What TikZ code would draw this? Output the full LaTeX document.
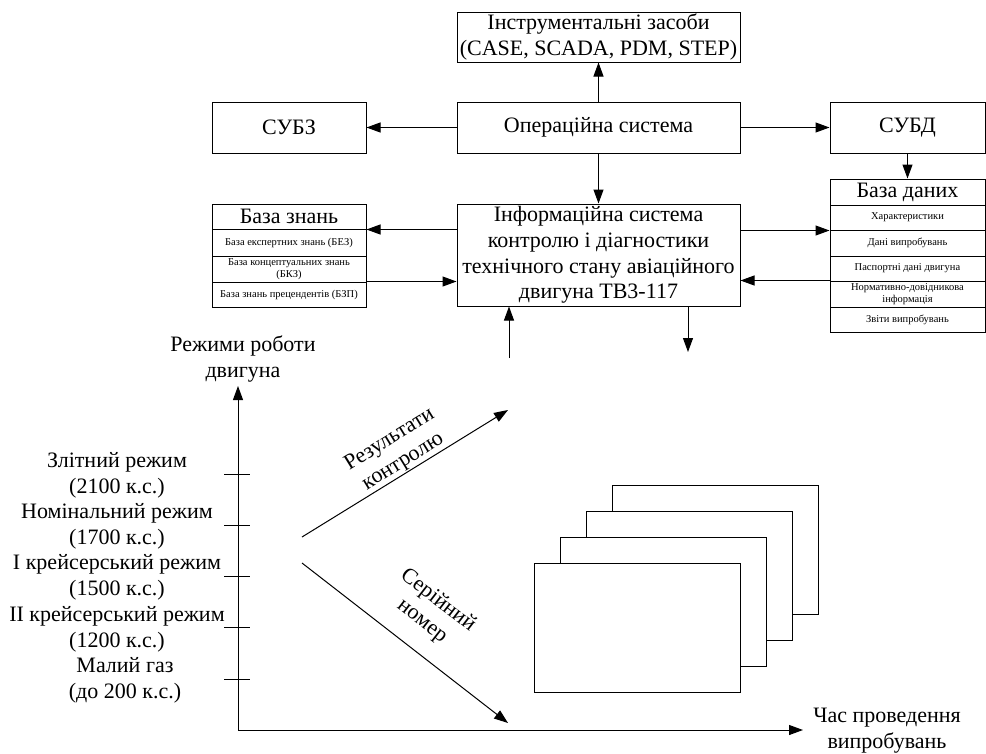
\documentclass[tikz,border=0pt]{standalone}
\usepackage{fontspec}
\setmainfont{Liberation Serif}
\usetikzlibrary{arrows.meta}
\begin{document}
\begin{tikzpicture}[x=1pt,y=-1pt,
 box/.style={draw, line width=1pt, inner sep=0pt, align=center, font=\fontsize{22}{25.7}\selectfont},
 row/.style={draw, line width=1pt, inner sep=0pt, align=center, font=\fontsize{10.5}{12.5}\selectfont},
 arr/.style={line width=1pt, -{Triangle[length=14pt,width=10pt]}},
 lbl/.style={align=center, inner sep=0pt, font=\fontsize{22}{25.7}\selectfont}]
\useasboundingbox (0,0) rectangle (986,753);
% top blocks
\node[box, minimum width=283pt, minimum height=50pt] (instr) at (598.5,37) {Інструментальні засоби\\(CASE, SCADA, PDM, STEP)};
\node[box, minimum width=283pt, minimum height=51pt] (os) at (598.5,127.5) {Операційна система};
\node[box, minimum width=283pt, minimum height=102pt] (info) at (598.5,255) {Інформаційна система\\контролю і діагностики\\технічного стану авіаційного\\двигуна ТВ3-117};
\node[box, minimum width=154pt, minimum height=51pt] (subz) at (289,127.5) {СУБЗ};
\node[box, minimum width=155pt, minimum height=51pt] (subd) at (907.5,127.5) {СУБД};
% knowledge base
\node[box, minimum width=154pt, minimum height=25pt] (bz0) at (289,216.5) {База знань};
\node[row, minimum width=154pt, minimum height=27pt] (bz1) at (289,242.5) {База експертних знань (БЕЗ)};
\node[row, minimum width=154pt, minimum height=26pt] (bz2) at (289,269) {База концептуальних знань\\(БКЗ)};
\node[row, minimum width=154pt, minimum height=25pt] (bz3) at (289,294.5) {База знань прецендентів (БЗП)};
% database
\node[box, minimum width=155pt, minimum height=26pt] (db0) at (907.5,192) {База даних};
\node[row, minimum width=155pt, minimum height=25pt] (db1) at (907.5,217.5) {Характеристики};
\node[row, minimum width=155pt, minimum height=26pt] (db2) at (907.5,243) {Дані випробувань};
\node[row, minimum width=155pt, minimum height=25pt] (db3) at (907.5,268.5) {Паспортні дані двигуна};
\node[row, minimum width=155pt, minimum height=26pt] (db4) at (907.5,294) {Нормативно-довідникова\\інформація};
\node[row, minimum width=155pt, minimum height=25pt] (db5) at (907.5,319.5) {Звіти випробувань};
% arrows top
\draw[arr] (os.north) -- (instr.south);
\draw[arr] (os.south) -- (info.north);
\draw[arr] (os.west) -- (subz.east);
\draw[arr] (os.east) -- (subd.west);
\draw[arr] (subd.south) -- (db0.north);
\draw[arr] (info.west |- bz0.south east) -- (bz0.south east);
\draw[arr] (bz3.north east) -- (info.west |- bz3.north east);
\draw[arr] (info.east |- db1.south west) -- (db1.south west);
\draw[arr] (db4.north west) -- (info.east |- db4.north west);
\coordinate (inS) at (509,358);
\coordinate (outS) at (688,352);
\draw[arr] (inS) -- (inS |- info.south);
\draw[arr] (outS |- info.south) -- (outS);
% axes
\coordinate (ytop) at (238,386);
\coordinate (orig) at (238,730);
\coordinate (xend) at (803,730);
\draw[line width=1pt, {Triangle[length=14pt,width=10pt]}-{Triangle[length=14pt,width=10pt]}] (ytop) -- (orig) -- (xend);
\foreach \y in {474,525,576,627,679} \draw[line width=1pt] (224,\y) -- (250,\y);
\node[lbl] (ylab) at (243,359) {Режими роботи\\двигуна};
\node[lbl] (xlab) at (887,731) {Час проведення\\випробувань};
\node[lbl] (m1) at (117,475) {Злітний режим\\(2100 к.с.)};
\node[lbl] (m2) at (117,526) {Номінальний режим\\(1700 к.с.)};
\node[lbl] (m3) at (117,577.5) {І крейсерський режим\\(1500 к.с.)};
\node[lbl] (m4) at (117,629) {ІІ крейсерський режим\\(1200 к.с.)};
\node[lbl] (m5) at (125,680) {Малий газ\\(до 200 к.с.)};
% diagonal arrows
\coordinate (d0) at (302,537);
\coordinate (d1) at (508,410);
\coordinate (d2) at (302,563);
\coordinate (d3) at (508,723);
\draw[arr] (d0) -- (d1);
\draw[arr] (d2) -- (d3);
\node[lbl, rotate=31.6] (lres) at (396.5,451) {Результати\\контролю};
\node[lbl, rotate=-37.8] (lser) at (430,611) {Серійний\\номер};
% stack of sheets
\foreach \i in {3,2,1,0} {
  \draw[line width=1pt, fill=white] ({534+26*\i},{563-25.7*\i}) rectangle ++(206,129);
}
\end{tikzpicture}
\end{document}
